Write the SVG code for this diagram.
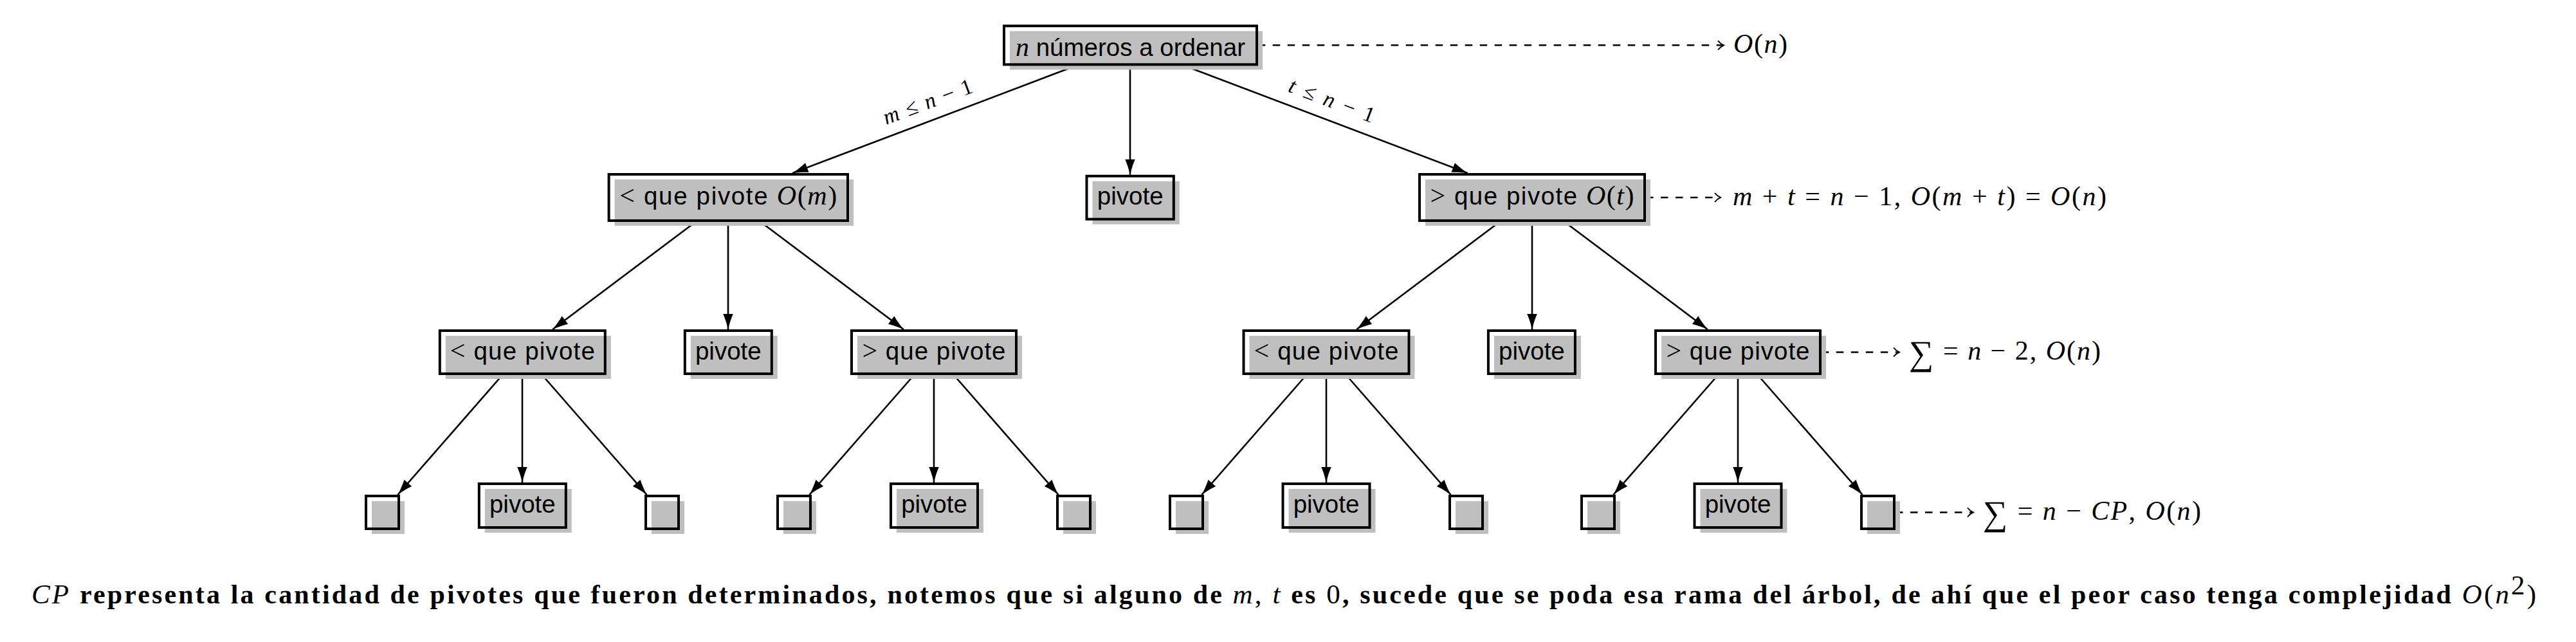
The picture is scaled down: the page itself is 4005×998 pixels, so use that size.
<svg xmlns="http://www.w3.org/2000/svg" width="4005" height="998" viewBox="0 0 4005 998">
<defs>
<style>
.sh{fill:#bfbfbf}
.bx{fill:none;stroke:#000;stroke-width:4}
.t{font-family:"Liberation Sans",Arial,sans-serif;font-size:38.5px;fill:#000;text-anchor:middle}
.m{font-family:"Liberation Serif","Times New Roman",serif;font-size:42px}
.i{font-style:italic}
.lab{font-family:"Liberation Serif","Times New Roman",serif;font-size:42px;fill:#000}
.el{font-family:"Liberation Serif","Times New Roman",serif;font-size:34px;fill:#000;text-anchor:middle}
.cap{font-family:"Liberation Serif","Times New Roman",serif;font-size:42px;font-weight:bold;fill:#000}
.cm{font-weight:normal;font-size:43px}
.e{fill:none;stroke:#000;stroke-width:2.6;marker-end:url(#ah)}
.d{fill:none;stroke:#000;stroke-width:2.4;stroke-dasharray:11.5 11.5;marker-end:url(#to)}
</style>
<marker id="ah" viewBox="-25 -9 26 18" refX="0" refY="0" markerWidth="26" markerHeight="18" markerUnits="userSpaceOnUse" orient="auto">
<path d="M0,0 C-7,-1.6 -17,-4.6 -24,-7.8 L-24,7.8 C-17,4.6 -7,1.6 0,0 Z" fill="#000"/>
</marker>
<marker id="to" viewBox="-12 -9 14 18" refX="0" refY="0" markerWidth="14" markerHeight="18" markerUnits="userSpaceOnUse" orient="auto">
<path d="M-9,-7 C-5,-2 -1,-0.5 0,0 C-1,0.5 -5,2 -9,7" fill="none" stroke="#000" stroke-width="2"/>
</marker>
</defs>
<rect width="4005" height="998" fill="#fff"/>

<g id="connectors">
<path class="e" d="M1672.5,102.3 L1232.3,269"/>
<path class="e" d="M1757,102.3 L1757,271.7"/>
<path class="e" d="M1841.5,102.3 L2281.7,269"/>
<path class="e" d="M1081.4,345 L859.2,512"/>
<path class="e" d="M1132,345 L1132,512"/>
<path class="e" d="M1182.6,345 L1404.8,512"/>
<path class="e" d="M2331.4,345 L2109.2,512"/>
<path class="e" d="M2382,345 L2382,512"/>
<path class="e" d="M2432.6,345 L2654.8,512"/>
<path class="e" d="M781,583 L618.5,769"/>
<path class="e" d="M812,583 L812,750"/>
<path class="e" d="M843,583 L1005.5,769"/>
<path class="e" d="M1421,583 L1258.5,769"/>
<path class="e" d="M1452,583 L1452,750"/>
<path class="e" d="M1483,583 L1645.5,769"/>
<path class="e" d="M2031,583 L1868.5,769"/>
<path class="e" d="M2062,583 L2062,750"/>
<path class="e" d="M2093,583 L2255.5,769"/>
<path class="e" d="M2671,583 L2508.5,769"/>
<path class="e" d="M2702,583 L2702,750"/>
<path class="e" d="M2733,583 L2895.5,769"/>
<path class="d" d="M1955.7,70.3 L2680,70.3"/>
<path class="d" d="M2559,307 L2675,307"/>
<path class="d" d="M2831.8,547.5 L2953,547.5"/>
<path class="d" d="M2947,796.5 L3068,796.5"/>
<text class="el" transform="translate(1443,160) rotate(-20.4)" x="0" y="9" textLength="146" lengthAdjust="spacing"><tspan class="i">m</tspan> ≤ <tspan class="i">n</tspan> − 1</text>
<text class="el" transform="translate(2070,158.3) rotate(20.6)" x="0" y="9" textLength="140" lengthAdjust="spacing"><tspan class="i">t</tspan> ≤ <tspan class="i">n</tspan> − 1</text>
</g>

<g id="root">
<rect class="sh" x="1570" y="48.3" width="393" height="60"/>
<rect class="bx" x="1561" y="40.3" width="393" height="60"/>
<text class="t" x="1757.5" y="86.7" textLength="357" lengthAdjust="spacing"><tspan class="m i">n</tspan> números a ordenar</text>
</g>

<g id="menor-m">
<rect class="sh" x="955.6" y="279" width="371.4" height="72"/>
<rect class="bx" x="946.6" y="271" width="371.4" height="72"/>
<text class="t" x="1132.3" y="318" textLength="338" lengthAdjust="spacing"><tspan class="m">&lt;</tspan> que pivote <tspan class="m i">O</tspan><tspan class="m">(</tspan><tspan class="m i">m</tspan><tspan class="m">)</tspan></text>
</g>
<g id="pivote-1">
<rect class="sh" x="1698.5" y="281.7" width="135.3" height="67"/>
<rect class="bx" x="1689.5" y="273.7" width="135.3" height="67"/>
<text class="t" x="1757.2" y="318">pivote</text>
</g>
<g id="mayor-t">
<rect class="sh" x="2216" y="279" width="350" height="72"/>
<rect class="bx" x="2207" y="271" width="350" height="72"/>
<text class="t" x="2382" y="318" textLength="317" lengthAdjust="spacing"><tspan class="m">&gt;</tspan> que pivote <tspan class="m i">O</tspan><tspan class="m">(</tspan><tspan class="m i">t</tspan><tspan class="m">)</tspan></text>
</g>

<g id="l2-menor-a">
<rect class="sh" x="692.8" y="522" width="257" height="67"/>
<rect class="bx" x="683.8" y="514" width="257" height="67"/>
<text class="t" x="812.3" y="558.5" textLength="225" lengthAdjust="spacing"><tspan class="m">&lt;</tspan> que pivote</text>
</g>
<g id="l2-pivote-a">
<rect class="sh" x="1073.8" y="522" width="135" height="67"/>
<rect class="bx" x="1064.8" y="514" width="135" height="67"/>
<text class="t" x="1132.3" y="558.5">pivote</text>
</g>
<g id="l2-mayor-a">
<rect class="sh" x="1333" y="522" width="256" height="67"/>
<rect class="bx" x="1324" y="514" width="256" height="67"/>
<text class="t" x="1452" y="558.5" textLength="223" lengthAdjust="spacing"><tspan class="m">&gt;</tspan> que pivote</text>
</g>
<g id="l2-menor-b">
<rect class="sh" x="1942.5" y="522" width="257" height="67"/>
<rect class="bx" x="1933.5" y="514" width="257" height="67"/>
<text class="t" x="2062" y="558.5" textLength="225" lengthAdjust="spacing"><tspan class="m">&lt;</tspan> que pivote</text>
</g>
<g id="l2-pivote-b">
<rect class="sh" x="2322.9" y="522" width="135" height="67"/>
<rect class="bx" x="2313.9" y="514" width="135" height="67"/>
<text class="t" x="2381.4" y="558.5">pivote</text>
</g>
<g id="l2-mayor-b">
<rect class="sh" x="2583" y="522" width="256" height="67"/>
<rect class="bx" x="2574" y="514" width="256" height="67"/>
<text class="t" x="2702" y="558.5" textLength="223" lengthAdjust="spacing"><tspan class="m">&gt;</tspan> que pivote</text>
</g>

<g id="l3-a1"><rect class="sh" x="578" y="779" width="51" height="51"/><rect class="bx" x="569" y="771" width="51" height="51"/></g>
<g id="l3-a2"><rect class="sh" x="753.8" y="760" width="135" height="68"/><rect class="bx" x="744.8" y="752" width="135" height="68"/><text class="t" x="812.3" y="797">pivote</text></g>
<g id="l3-a3"><rect class="sh" x="1013" y="779" width="51" height="51"/><rect class="bx" x="1004" y="771" width="51" height="51"/></g>
<g id="l3-b1"><rect class="sh" x="1218" y="779" width="51" height="51"/><rect class="bx" x="1209" y="771" width="51" height="51"/></g>
<g id="l3-b2"><rect class="sh" x="1394" y="760" width="135" height="68"/><rect class="bx" x="1385" y="752" width="135" height="68"/><text class="t" x="1452.5" y="797">pivote</text></g>
<g id="l3-b3"><rect class="sh" x="1653" y="779" width="51" height="51"/><rect class="bx" x="1644" y="771" width="51" height="51"/></g>
<g id="l3-c1"><rect class="sh" x="1828" y="779" width="51" height="51"/><rect class="bx" x="1819" y="771" width="51" height="51"/></g>
<g id="l3-c2"><rect class="sh" x="2003.5" y="760" width="135" height="68"/><rect class="bx" x="1994.5" y="752" width="135" height="68"/><text class="t" x="2062" y="797">pivote</text></g>
<g id="l3-c3"><rect class="sh" x="2263" y="779" width="51" height="51"/><rect class="bx" x="2254" y="771" width="51" height="51"/></g>
<g id="l3-d1"><rect class="sh" x="2468" y="779" width="51" height="51"/><rect class="bx" x="2459" y="771" width="51" height="51"/></g>
<g id="l3-d2"><rect class="sh" x="2643.5" y="760" width="135" height="68"/><rect class="bx" x="2634.5" y="752" width="135" height="68"/><text class="t" x="2702" y="797">pivote</text></g>
<g id="l3-d3"><rect class="sh" x="2903" y="779" width="51" height="51"/><rect class="bx" x="2894" y="771" width="51" height="51"/></g>

<g id="labels">
<text class="lab" x="2695" y="81.5" textLength="84" lengthAdjust="spacing"><tspan class="i">O</tspan>(<tspan class="i">n</tspan>)</text>
<text class="lab" x="2694" y="318.5" textLength="581" lengthAdjust="spacing"><tspan class="i">m</tspan> + <tspan class="i">t</tspan> = <tspan class="i">n</tspan> − 1, <tspan class="i">O</tspan>(<tspan class="i">m</tspan> + <tspan class="i">t</tspan>) = <tspan class="i">O</tspan>(<tspan class="i">n</tspan>)</text>
<text class="lab" x="2968" y="558.5" textLength="298" lengthAdjust="spacing"><tspan font-size="54" dy="8">∑</tspan><tspan dy="-8"> = </tspan><tspan class="i">n</tspan> − 2, <tspan class="i">O</tspan>(<tspan class="i">n</tspan>)</text>
<text class="lab" x="3083" y="807.5" textLength="339" lengthAdjust="spacing"><tspan font-size="54" dy="8">∑</tspan><tspan dy="-8"> = </tspan><tspan class="i">n</tspan> − <tspan class="i">CP</tspan>, <tspan class="i">O</tspan>(<tspan class="i">n</tspan>)</text>
</g>

<g id="caption">
<text class="cap" x="49" y="938" textLength="3894" lengthAdjust="spacing"><tspan class="cm i">CP</tspan> representa la cantidad de pivotes que fueron determinados, notemos que si alguno de <tspan class="cm i">m</tspan><tspan class="cm">, </tspan><tspan class="cm i">t</tspan> es <tspan class="cm">0</tspan>, sucede que se poda esa rama del árbol, de ahí que el peor caso tenga complejidad <tspan class="cm i">O</tspan><tspan class="cm">(</tspan><tspan class="cm i">n</tspan><tspan class="cm" font-size="27" dy="-14">2</tspan><tspan class="cm" dy="14">)</tspan></text>
</g>
</svg>
